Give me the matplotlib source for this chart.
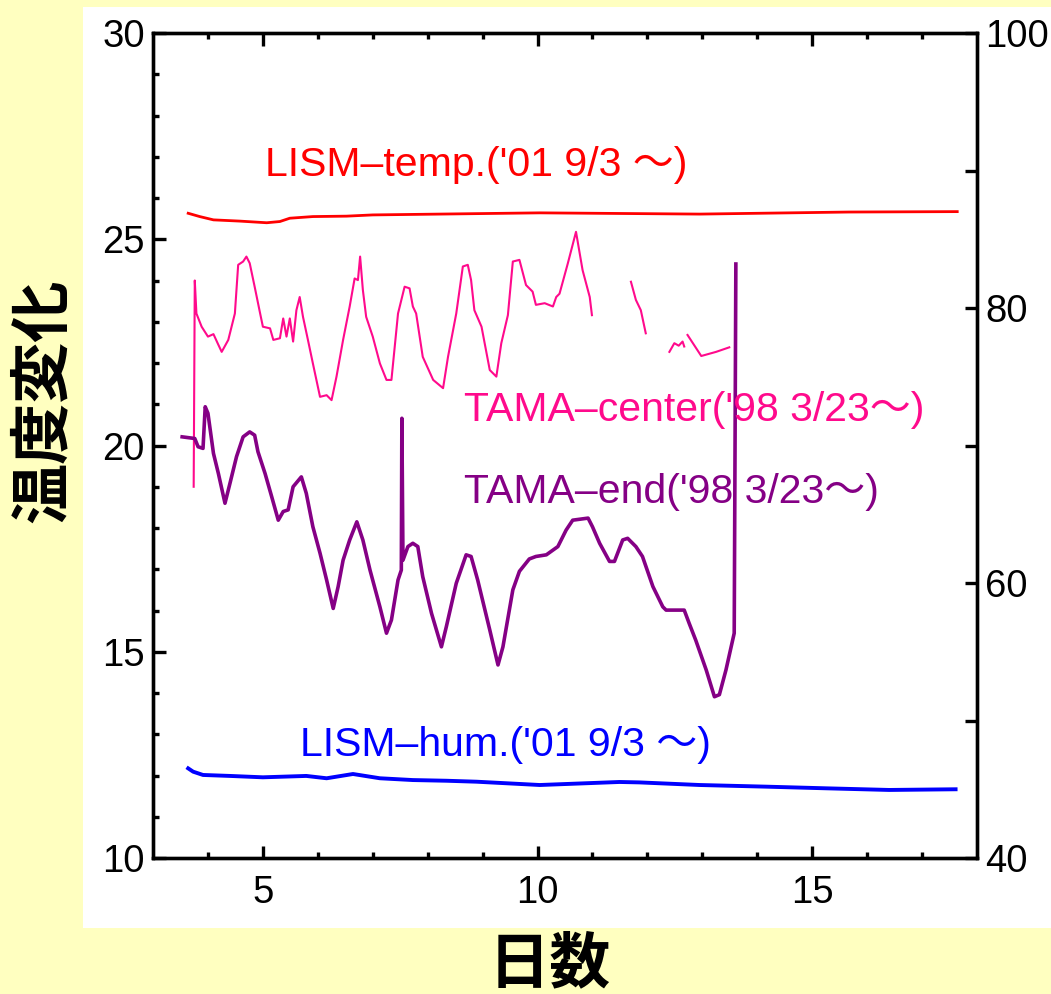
import matplotlib
matplotlib.use('Agg')
import matplotlib.pyplot as plt
from matplotlib.patches import Rectangle
import numpy as np

nan = np.nan

# LISM temperature (deg C), days
lism_temp = [(3.64, 25.63), (3.85, 25.55), (4.1, 25.47), (4.58, 25.44), (5.07, 25.40),
             (5.31, 25.43), (5.49, 25.51), (5.91, 25.55), (6.52, 25.56), (7.0, 25.59),
             (10.04, 25.64), (12.95, 25.61), (15.67, 25.66), (17.64, 25.67)]

# TAMA center temperature, gaps where no data
tama_center = [(3.74, 19.0), (3.76, 24.0), (3.79, 23.2), (3.885, 22.88), (4.0, 22.64),
               (4.1, 22.7), (4.19, 22.44), (4.25, 22.27), (4.37, 22.56), (4.49, 23.2),
               (4.55, 24.38), (4.64, 24.46), (4.70, 24.58), (4.76, 24.42), (4.85, 23.85),
               (4.95, 23.2), (5.0, 22.88), (5.13, 22.84), (5.19, 22.56), (5.31, 22.6),
               (5.37, 23.08), (5.43, 22.64), (5.49, 23.08), (5.55, 22.52), (5.61, 23.28),
               (5.67, 23.6), (5.73, 23.12), (5.82, 22.56), (5.91, 21.99), (6.04, 21.18),
               (6.16, 21.22), (6.25, 21.1), (6.34, 21.67), (6.46, 22.56), (6.58, 23.37),
               (6.67, 24.05), (6.73, 24.01), (6.77, 24.58), (6.82, 23.77), (6.88, 23.12),
               (7.0, 22.64), (7.13, 21.99), (7.25, 21.59), (7.34, 21.59), (7.46, 23.2),
               (7.58, 23.85), (7.67, 23.81), (7.73, 23.37), (7.79, 23.2), (7.91, 22.15),
               (8.1, 21.59), (8.28, 21.39), (8.37, 22.15), (8.52, 23.2), (8.64, 24.34),
               (8.73, 24.38), (8.79, 24.01), (8.85, 23.28), (8.98, 22.88), (9.13, 21.83),
               (9.25, 21.67), (9.34, 22.48), (9.46, 23.16), (9.55, 24.46), (9.67, 24.5),
               (9.79, 23.89), (9.91, 23.73), (9.97, 23.41), (10.13, 23.45), (10.28, 23.37),
               (10.34, 23.6), (10.4, 23.68), (10.55, 24.41), (10.70, 25.18), (10.82, 24.25),
               (10.95, 23.6), (10.99, 23.16), (nan, nan),
               (11.7, 23.97), (11.79, 23.53), (11.88, 23.28), (11.97, 22.72), (nan, nan),
               (12.4, 22.27), (12.49, 22.48), (12.57, 22.42), (12.64, 22.52), (12.67, 22.4),
               (nan, nan),
               (12.73, 22.68), (12.98, 22.17), (13.25, 22.27), (13.49, 22.38)]

# TAMA end temperature
tama_end = [(3.53, 20.21), (3.76, 20.17), (3.82, 19.97), (3.91, 19.93), (3.95, 20.94),
            (4.0, 20.78), (4.1, 19.81), (4.19, 19.32), (4.31, 18.6), (4.4, 19.08),
            (4.52, 19.73), (4.64, 20.21), (4.76, 20.33), (4.85, 20.25), (4.91, 19.85),
            (5.04, 19.32), (5.16, 18.76), (5.28, 18.19), (5.37, 18.4), (5.46, 18.44),
            (5.55, 19.0), (5.7, 19.24), (5.79, 18.84), (5.91, 18.03), (6.04, 17.39),
            (6.16, 16.74), (6.28, 16.05), (6.37, 16.58), (6.46, 17.22), (6.58, 17.71),
            (6.71, 18.15), (6.82, 17.71), (6.95, 16.98), (7.13, 16.09), (7.25, 15.45),
            (7.34, 15.77), (7.46, 16.74), (7.52, 16.98), (7.53, 20.66), (7.55, 17.22),
            (7.64, 17.55), (7.73, 17.63), (7.82, 17.55), (7.91, 16.82), (8.07, 15.93),
            (8.25, 15.12), (8.34, 15.61), (8.52, 16.66), (8.7, 17.35), (8.79, 17.31),
            (8.91, 16.74), (9.13, 15.53), (9.28, 14.68), (9.37, 15.12), (9.55, 16.5),
            (9.67, 16.95), (9.85, 17.25), (9.97, 17.31), (10.16, 17.35), (10.37, 17.55),
            (10.52, 17.95), (10.64, 18.19), (10.92, 18.24), (11.0, 18.03), (11.13, 17.63),
            (11.31, 17.19), (11.4, 17.19), (11.55, 17.71), (11.64, 17.75), (11.79, 17.55),
            (11.91, 17.31), (12.1, 16.58), (12.28, 16.09), (12.34, 16.01), (12.67, 16.01),
            (12.76, 15.69), (12.88, 15.28), (13.07, 14.56), (13.22, 13.91), (13.31, 13.96),
            (13.43, 14.56), (13.58, 15.45), (13.61, 24.4)]

# LISM humidity (%), right axis
lism_hum = [(3.64, 46.52), (3.73, 46.28), (3.91, 46.04), (4.4, 45.97), (5.0, 45.87),
            (5.79, 45.97), (6.16, 45.80), (6.64, 46.11), (7.13, 45.80), (7.73, 45.67),
            (8.34, 45.62), (8.89, 45.55), (10.04, 45.31), (11.49, 45.53), (11.85, 45.50),
            (12.95, 45.31), (14.16, 45.19), (15.25, 45.07), (16.4, 44.95), (17.61, 45.0)]

left_ticks = [10, 15, 20, 25, 30]
right_ticks = [40, 50, 60, 70, 80, 90, 100]
right_labels = ['40', '', '60', '', '80', '', '100']
x_ticks = [5, 10, 15]

labels = {
    'temp': "LISM\u2013temp.('01 9/3 \uff5e)",
    'center': "TAMA\u2013center('98 3/23\uff5e)",
    'end': "TAMA\u2013end('98 3/23\uff5e)",
    'hum': "LISM\u2013hum.('01 9/3 \uff5e)",
}

c_red = '#ff0000'
c_pink = '#ff0a8c'
c_purple = '#850085'
c_blue = '#0000ff'

plt.rcParams['font.family'] = ['Liberation Sans', 'Noto Sans CJK JP']

fig = plt.figure(figsize=(10.51, 9.94), dpi=100, facecolor='#ffffc0')
# white panel behind the axes
fig.patches.append(Rectangle((0.079, 0.066), 0.921, 0.927, transform=fig.transFigure,
                             facecolor='white', edgecolor='none', zorder=-10))

ax = fig.add_axes([0.1456, 0.1368, 0.784, 0.830])
ax.set_facecolor('none')
ax2 = ax.twinx()

x, y = np.array(lism_temp).T
ax.plot(x, y, color=c_red, lw=2.0)
x, y = np.array(tama_center).T
ax.plot(x, y, color=c_pink, lw=1.5)
x, y = np.array(tama_end).T
ax.plot(x, y, color=c_purple, lw=2.6)
x, y = np.array(lism_hum).T
ax2.plot(x, y, color=c_blue, lw=2.8)

ax.set_xlim(3, 18)
ax.set_ylim(10, 30)
ax2.set_ylim(40, 100)

ax.set_xticks(x_ticks)
ax.set_xticks(np.arange(4, 18, 1), minor=True)
ax.set_yticks(left_ticks)
ax.set_yticks(np.arange(11, 30, 1), minor=True)
ax2.set_yticks(right_ticks)
ax2.set_yticklabels(right_labels)

ax.tick_params(axis='both', which='major', direction='in', length=9, width=2.4,
               labelsize=27.5, top=True, right=False)
ax.tick_params(axis='both', which='minor', direction='in', length=4.5, width=2.4,
               top=True, right=False)
ax.tick_params(axis='x', pad=12)
ax.tick_params(axis='y', pad=6)
ax2.tick_params(axis='y', which='major', direction='in', length=9, width=2.4,
                labelsize=27.5, pad=6)

for a in (ax, ax2):
    for s in a.spines.values():
        s.set_linewidth(2.4)

ax.text(5.04, 26.8, labels['temp'], color=c_red, fontsize=29.5, va='center')
ax.text(8.67, 20.86, labels['center'], color=c_pink, fontsize=29.5, va='center')
ax.text(8.67, 18.87, labels['end'], color=c_purple, fontsize=29.5, va='center')
ax.text(5.67, 12.74, labels['hum'], color=c_blue, fontsize=29.5, va='center')

fig.text(0.041, 0.597, '温度変化', rotation=90, fontsize=44, fontweight='bold',
         family='Noto Sans CJK JP', ha='center', va='center')
fig.text(0.523, 0.030, '日数', fontsize=44, fontweight='bold',
         family='Noto Sans CJK JP', ha='center', va='center')

fig.savefig('out.png', dpi=100, facecolor=fig.get_facecolor())
